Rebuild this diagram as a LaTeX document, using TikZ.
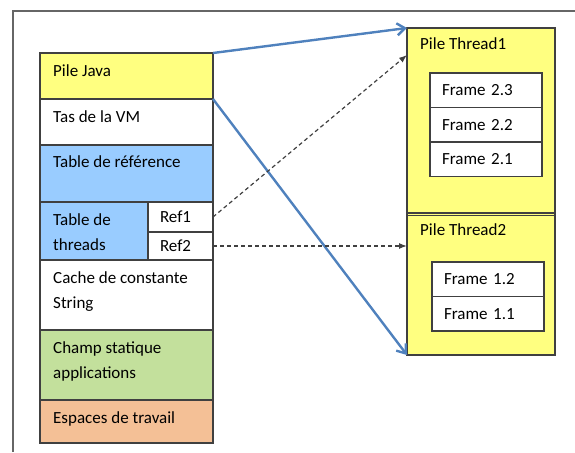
\documentclass[tikz,border=0pt]{standalone}
\usepackage{fontspec}
\setmainfont{Carlito}
\usetikzlibrary{positioning}
\usetikzlibrary{arrows.meta}
\definecolor{pileY}{RGB}{255,255,128}
\definecolor{refB}{RGB}{153,204,255}
\definecolor{champG}{RGB}{195,224,156}
\definecolor{espO}{RGB}{244,192,150}
\definecolor{edge}{RGB}{64,64,64}
\definecolor{lien}{RGB}{79,129,189}
\tikzset{cell/.style={draw=edge, line width=1.1pt, inner sep=0pt, outer sep=0pt, minimum width=173pt}}
\tikzset{txt/.style={inner sep=0pt, anchor=base west, align=left, font=\fontsize{17}{25}\selectfont}}
\tikzset{frm/.style={draw=edge, line width=1.1pt, fill=white, outer sep=0pt, minimum height=34.5pt, text width=88pt, inner xsep=12pt, inner ysep=0pt, align=left, font=\fontsize{17}{20}\selectfont}}
\tikzset{refc/.style={frm, text width=41pt}}
\tikzset{pile/.style={draw=edge, line width=1.1pt, fill=pileY, minimum width=148pt, inner sep=0pt, outer sep=0pt, anchor=north west}}
\tikzset{bleu/.style={draw=lien, line width=2.4pt, -{Straight Barb[length=8pt, width=12pt]}}}
\tikzset{ptr/.style={draw=edge, line width=1.2pt, dash pattern=on 4pt off 3pt, -{Latex[length=8pt, width=6pt]}}}

\begin{document}
\begin{tikzpicture}[x=1pt, y=-1pt]
        \useasboundingbox (0,0) rectangle (575,452);
        \draw[line width=1.4pt, color=black!60] (13,452) -- (13,11) -- (575,11);

        % pile de la VM
        \node[cell, fill=pileY, minimum height=46pt, anchor=north west] (java) at (40,53) {};
        \node[cell, fill=white, minimum height=46pt, below=0pt of java] (tas) {};
        \node[cell, fill=refB, minimum height=57pt, below=0pt of tas] (ref) {};
        \node[cell, fill=refB, minimum height=58pt, minimum width=108pt, below right=0pt and 0pt of ref.south west] (thr) {};
        \node[refc, minimum height=30pt, below right=0pt and 0pt of thr.north east] (ref1) {Ref1};
        \node[refc, minimum height=28pt, below=0pt of ref1] (ref2) {Ref2};
        \node[cell, fill=white, minimum height=70pt, below right=0pt and 0pt of thr.south west] (cache) {};
        \node[cell, fill=champG, minimum height=70pt, below=0pt of cache] (champ) {};
        \node[cell, fill=espO, minimum height=43pt, below=0pt of champ] (esp) {};

        % base = last line, so two-line texts go 25pt lower
        \node[txt] (javaT) at ([shift={(13,23)}]java.north west) {Pile Java};
        \node[txt] (tasT) at ([shift={(13,23)}]tas.north west) {Tas de la VM};
        \node[txt] (refT) at ([shift={(13,22)}]ref.north west) {Table de référence};
        \node[txt] (thrT) at ([shift={(13,48)}]thr.north west) {Table de\\threads};
        \node[txt] (cacheT) at ([shift={(13,48)}]cache.north west) {Cache de constante\\String};
        \node[txt] (champT) at ([shift={(13,48)}]champ.north west) {Champ statique\\applications};
        \node[txt] (espT) at ([shift={(13,23)}]esp.north west) {Espaces de travail};

        % piles des threads
        \node[pile, minimum height=187.5pt] (th1) at (407,28) {};
        \draw[edge, line width=1.1pt] ([yshift=2.5pt]th1.south west) -- ([yshift=2.5pt]th1.south east);
        \node[pile, minimum height=139.5pt] (th2) at (407,215.5) {};
        \node[txt] (th1T) at ([shift={(13,22)}]th1.north west) {Pile Thread1};
        \node[txt] (th2T) at ([shift={(13,19.5)}]th2.north west) {Pile Thread2};

        \node[frm, anchor=north west] (f23) at (430,73) {Frame 2.3};
        \node[frm, below=0pt of f23] (f22) {Frame 2.2};
        \node[frm, below=0pt of f22] (f21) {Frame 2.1};
        \node[frm, anchor=north west] (f12) at (432,262) {Frame 1.2};
        \node[frm, below=0pt of f12] (f11) {Frame 1.1};

        \draw[bleu] (java.north east) -- (th1.north west);
        \draw[bleu] (java.south east) -- (th2.south west);
        \draw[ptr] (ref1.east) -- ([yshift=-27pt]th1.north west);
        \draw[ptr] (ref2.east) -- (ref2.east -| th1.west);
\end{tikzpicture}
\end{document}
